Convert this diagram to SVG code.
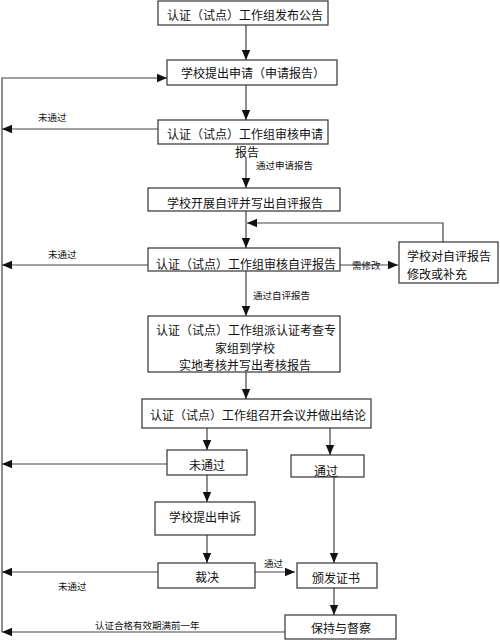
<svg xmlns="http://www.w3.org/2000/svg" width="500" height="640" viewBox="0 0 500 640">
<style>
.box{fill:#fff;stroke:#333;stroke-width:1.2}
.ln{fill:none;stroke:#444;stroke-width:1.2}
.t{font-family:"Noto Sans CJK SC","Noto Sans",sans-serif;font-size:12px;fill:#111}
.c{text-anchor:middle}
.lb{font-family:"Noto Sans CJK SC","Noto Sans",sans-serif;font-size:9.5px;fill:#111}
</style>
<defs>
<marker id="ar" markerUnits="userSpaceOnUse" markerWidth="10" markerHeight="10" viewBox="0 0 10 10" refX="10" refY="5" orient="auto">
<path d="M0,0.8 L10,5 L0,9.2 Z" fill="#111"/>
</marker>
</defs>
<rect width="500" height="640" fill="#fff"/>
<g id="connectors">
<path class="ln" d="M246,25 V60" marker-end="url(#ar)"/>
<path class="ln" d="M2,632 V78 H167" marker-end="url(#ar)"/>
<path class="ln" d="M246,85 V120" marker-end="url(#ar)"/>
<path class="ln" d="M158,129 H2" marker-end="url(#ar)"/>
<path class="ln" d="M246,158 V188" marker-end="url(#ar)"/>
<path class="ln" d="M246,211 V248" marker-end="url(#ar)"/>
<path class="ln" d="M443,242 V223 H247" marker-end="url(#ar)"/>
<path class="ln" d="M148,265 H2" marker-end="url(#ar)"/>
<path class="ln" d="M340,265 H398" marker-end="url(#ar)"/>
<path class="ln" d="M246,271 V316" marker-end="url(#ar)"/>
<path class="ln" d="M246,372 V399" marker-end="url(#ar)"/>
<path class="ln" d="M207,428 V450" marker-end="url(#ar)"/>
<path class="ln" d="M330,428 V455" marker-end="url(#ar)"/>
<path class="ln" d="M167,464 H2" marker-end="url(#ar)"/>
<path class="ln" d="M207,475 V502" marker-end="url(#ar)"/>
<path class="ln" d="M334,477 V563" marker-end="url(#ar)"/>
<path class="ln" d="M207,535 V563" marker-end="url(#ar)"/>
<path class="ln" d="M158,572 H2" marker-end="url(#ar)"/>
<path class="ln" d="M255,572 H295" marker-end="url(#ar)"/>
<path class="ln" d="M334,588 V615" marker-end="url(#ar)"/>
<path class="ln" d="M285,632 H2" marker-end="url(#ar)"/>
<text class="lb" x="38" y="121">未通过</text>
<text class="lb" x="256" y="169">通过申请报告</text>
<text class="lb" x="48" y="258">未通过</text>
<text class="lb" x="352" y="269">需修改</text>
<text class="lb" x="253" y="299">通过自评报告</text>
<text class="lb" x="264" y="567">通过</text>
<text class="lb" x="58" y="590">未通过</text>
<text class="lb" x="95" y="629">认证合格有效期满前一年</text>
</g>
<g id="n1"><rect class="box" x="158" y="1" width="170" height="24"/><text class="t c" x="245" y="20">认证（试点）工作组发布公告</text></g>
<g id="n2"><rect class="box" x="167" y="60" width="170" height="25"/><text class="t c" x="253" y="78">学校提出申请（申请报告）</text></g>
<g id="n3"><rect class="box" x="158" y="120" width="170" height="24"/><text class="t c" x="245" y="139">认证（试点）工作组审核申请</text><text class="t c" x="247" y="157">报告</text></g>
<g id="n4"><rect class="box" x="148" y="188" width="192" height="23"/><text class="t c" x="245" y="208">学校开展自评并写出自评报告</text></g>
<g id="n5"><rect class="box" x="148" y="248" width="192" height="23"/><text class="t c" x="246" y="269">认证（试点）工作组审核自评报告</text></g>
<g id="n6"><rect class="box" x="399" y="242" width="99" height="41"/><text class="t" x="407" y="261">学校对自评报告</text><text class="t" x="407" y="279">修改或补充</text></g>
<g id="n7"><rect class="box" x="148" y="316" width="192" height="56"/><text class="t c" x="246" y="335">认证（试点）工作组派认证考查专</text><text class="t c" x="245" y="353">家组到学校</text><text class="t c" x="245" y="370">实地考核并写出考核报告</text></g>
<g id="n8"><rect class="box" x="142" y="399" width="229" height="29"/><text class="t c" x="258" y="420">认证（试点）工作组召开会议并做出结论</text></g>
<g id="n9"><rect class="box" x="167" y="450" width="80" height="25"/><text class="t c" x="207" y="470">未通过</text></g>
<g id="n10"><rect class="box" x="291" y="455" width="73" height="22"/><text class="t c" x="326" y="476">通过</text></g>
<g id="n11"><rect class="box" x="155" y="502" width="100" height="33"/><text class="t c" x="205" y="522">学校提出申诉</text></g>
<g id="n12"><rect class="box" x="158" y="563" width="97" height="25"/><text class="t c" x="207" y="582">裁决</text></g>
<g id="n13"><rect class="box" x="297" y="563" width="80" height="25"/><text class="t c" x="336" y="583">颁发证书</text></g>
<g id="n14"><rect class="box" x="285" y="615" width="111" height="24"/><text class="t c" x="341" y="633">保持与督察</text></g>
</svg>
